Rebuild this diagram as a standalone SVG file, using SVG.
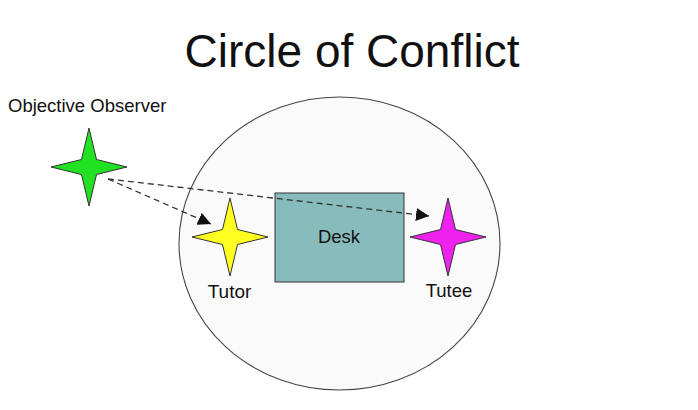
<svg xmlns="http://www.w3.org/2000/svg" width="698" height="410" viewBox="0 0 698 410">
<defs>
<style>
text{font-family:"Liberation Sans",Arial,sans-serif;fill:#111}
.star{stroke:#333;stroke-width:1}
.conn{fill:none;stroke:#333;stroke-width:1.3;stroke-dasharray:6,4}
</style>
<marker id="ah" viewBox="0 0 10 10" refX="10" refY="5" markerWidth="13" markerHeight="13" markerUnits="userSpaceOnUse" orient="auto">
<path d="M0,0 L10,5 L0,10 Z" fill="#111"/>
</marker>
<path id="starShape" d="M0,-39 L7.5,-7.5 L38,0 L7.5,7.5 L0,39 L-7.5,7.5 L-38,0 L-7.5,-7.5 Z"/>
</defs>
<rect width="698" height="410" fill="#fff"/>
<text x="352" y="67" font-size="46" text-anchor="middle">Circle of Conflict</text>
<g id="circle">
<ellipse cx="339.5" cy="243.5" rx="160.5" ry="146.5" fill="#fafafa" stroke="#444" stroke-width="1.1"/>
</g>
<g id="desk">
<rect x="275" y="193" width="129" height="89" fill="#88bbbb" stroke="#333" stroke-width="1"/>
<text x="339" y="243" font-size="18.5" text-anchor="middle">Desk</text>
</g>
<g id="observer">
<text x="8" y="112" font-size="18.5">Objective Observer</text>
<use href="#starShape" x="89" y="167" fill="#22e022" class="star"/>
</g>
<g id="tutor">
<use href="#starShape" x="230" y="237" fill="#ffff22" class="star"/>
<text x="229.5" y="298" font-size="19" text-anchor="middle">Tutor</text>
</g>
<g id="tutee">
<use href="#starShape" x="448" y="237" fill="#ee22ee" class="star"/>
<text x="449" y="297" font-size="18.5" text-anchor="middle">Tutee</text>
</g>
<g id="connectors">
<line class="conn" x1="108" y1="179" x2="211" y2="224" marker-end="url(#ah)"/>
<line class="conn" x1="108" y1="179" x2="429" y2="216" marker-end="url(#ah)"/>
</g>
</svg>
